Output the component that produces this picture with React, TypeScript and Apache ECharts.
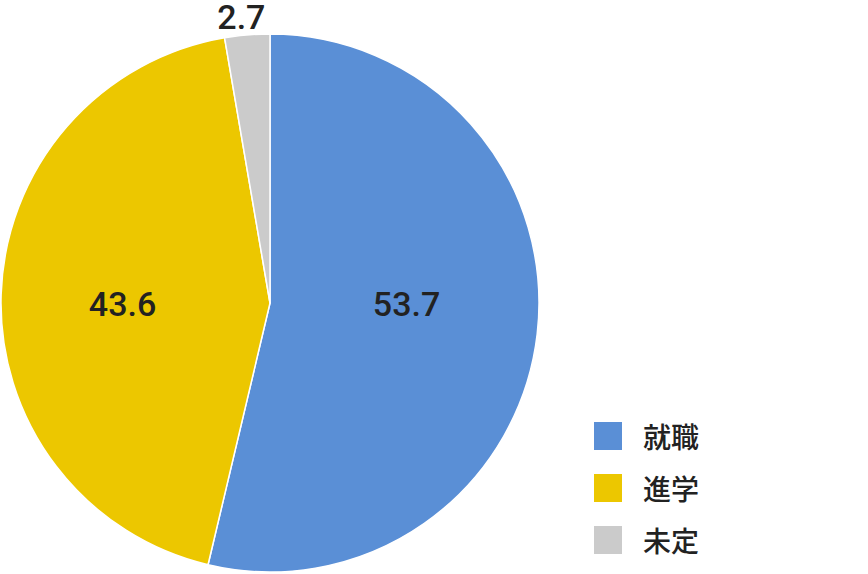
import React, { useEffect, useRef } from 'react';
import * as echarts from 'echarts';

const categories = ['就職', '進学', '未定'];
const values = [53.7, 43.6, 2.7];
const colors = ['#5a8fd6', '#ecc700', '#cbcbcb'];
// label nudges from the default inner position
const labelOffsets = [
  [0, -15],
  [-10, 5],
  [-17, -149],
];

const App: React.FC = () => {
  const chartRef = useRef<HTMLDivElement>(null);

  useEffect(() => {
    if (!chartRef.current) return;
    const myChart = echarts.init(chartRef.current, undefined, { renderer: 'svg' });
    const option = {
      animation: false,
      color: colors,
      legend: {
        orient: 'vertical',
        left: 592,
        top: 420,
        padding: 0,
        icon: 'rect',
        itemWidth: 30,
        itemHeight: 30,
        itemGap: 20,
        selectedMode: false,
        data: categories,
        textStyle: {
          fontFamily: 'Noto Sans CJK JP',
          fontSize: 28,
          fontWeight: 500,
          lineHeight: 30,
          color: '#222',
          padding: [0, 0, 0, 15],
        },
      },
      series: [
        {
          type: 'pie',
          center: [270, 303],
          radius: [0, 269],
          startAngle: 90,
          clockwise: true,
          silent: true,
          itemStyle: { borderColor: '#fff', borderWidth: 1.5 },
          label: {
            show: true,
            position: 'inner',
            fontFamily: 'Roboto',
            fontSize: 34,
            fontWeight: 500,
            lineHeight: 28,
            color: '#222',
            formatter: (p: any) => p.value.toFixed(1),
          },
          labelLine: { show: false },
          data: categories.map((name, i) => ({
            name,
            value: values[i],
            label: { offset: labelOffsets[i] },
          })),
        },
      ],
    };
    myChart.setOption(option);
    return () => { myChart.dispose(); };
  }, []);

  return (
    <div
      ref={chartRef}
      style={{ position: 'absolute', left: 0, top: 0, width: 868, height: 574 }}
    />
  );
};

export default App;
